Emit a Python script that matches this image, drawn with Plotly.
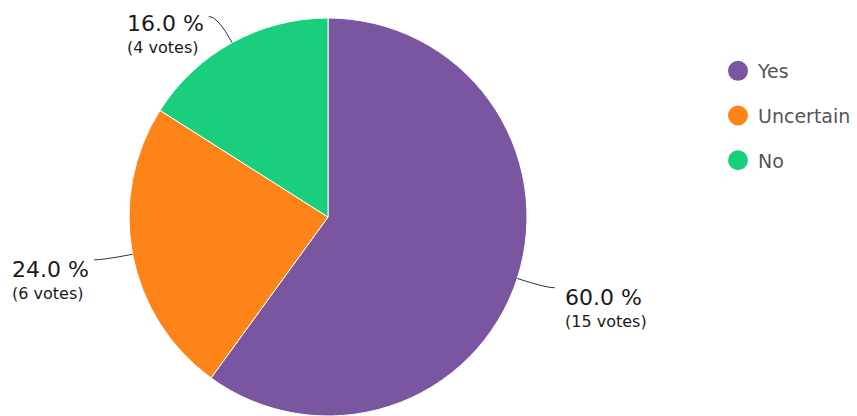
import math
import plotly.graph_objects as go

# ---- data ----
labels = ["Yes", "Uncertain", "No"]
votes = [15, 6, 4]
colors = ["#79569f", "#fd8419", "#19ce7c"]

W, H = 857, 416
CX, CY, R = 328, 217, 199  # pie center / radius in pixels

fig = go.Figure()

fig.add_trace(go.Pie(
    labels=labels, values=votes, sort=False, direction="clockwise", rotation=0,
    marker=dict(colors=colors, line=dict(color="white", width=1)),
    textinfo="none", hoverinfo="label+percent+value", showlegend=False,
    domain=dict(x=[(CX - R) / W, (CX + R) / W], y=[(H - CY - R) / H, (H - CY + R) / H]),
))

# legend entries (circle markers)
for lab, col in zip(labels, colors):
    fig.add_trace(go.Scatter(
        x=[None], y=[None], mode="markers", name=lab, legendgroup=lab,
        marker=dict(symbol="circle", size=16, color=col, line=dict(color=col, width=4)),
        showlegend=True, hoverinfo="skip",
    ))

# labels with leader lines, positioned from slice mid-angles
total = sum(votes)
annotations, shapes = [], []
cum = 0
for lab, v in zip(labels, votes):
    mid = (cum + v / 2) / total * 2 * math.pi
    cum += v
    sx, sy = math.sin(mid), -math.cos(mid)
    x0, y0 = CX + R * sx, CY + R * sy
    xm, ym = CX + (R + 30) * sx, CY + (R + 30) * sy
    right = sx >= 0
    x1 = xm + (9 if right else -9)
    y1 = ym
    shapes.append(dict(
        type="path", xref="x", yref="y",
        path=f"M {x0:.1f} {y0:.1f} Q {xm:.1f} {ym:.1f} {x1:.1f} {y1:.1f}",
        line=dict(color="#333333", width=1),
    ))
    pct = f"{v / total * 100:.1f} %"
    annotations.append(dict(
        x=x1 + (8 if right else -3), y=y1 + 20 - (2 if sy < -0.5 else 0), xref="x", yref="y",
        text=f"<span style='font-size:22px'>{pct}</span><br>"
             f"<span style='font-size:16px'>({v} votes)</span>",
        showarrow=False, xanchor="left" if right else "right", yanchor="middle",
        align="left", font=dict(family="DejaVu Sans", size=17, color="#1a1a1a"),
    ))

fig.update_layout(
    width=W, height=H, autosize=False,
    margin=dict(l=0, r=0, t=0, b=0),
    paper_bgcolor="white", plot_bgcolor="rgba(0,0,0,0)",
    xaxis=dict(range=[0, W], visible=False, domain=[0, 1], fixedrange=True),
    yaxis=dict(range=[H, 0], visible=False, domain=[0, 1], fixedrange=True),
    shapes=shapes, annotations=annotations,
    showlegend=True,
    legend=dict(
        x=718 / W, y=(H - 52) / H, xanchor="left", yanchor="top",
        font=dict(family="DejaVu Sans", size=19, color="#555555"),
        tracegroupgap=17, bgcolor="rgba(0,0,0,0)",
    ),
)

fig.write_html("out.html", config={"displayModeBar": False},
               post_script="document.body.style.margin='0';")
